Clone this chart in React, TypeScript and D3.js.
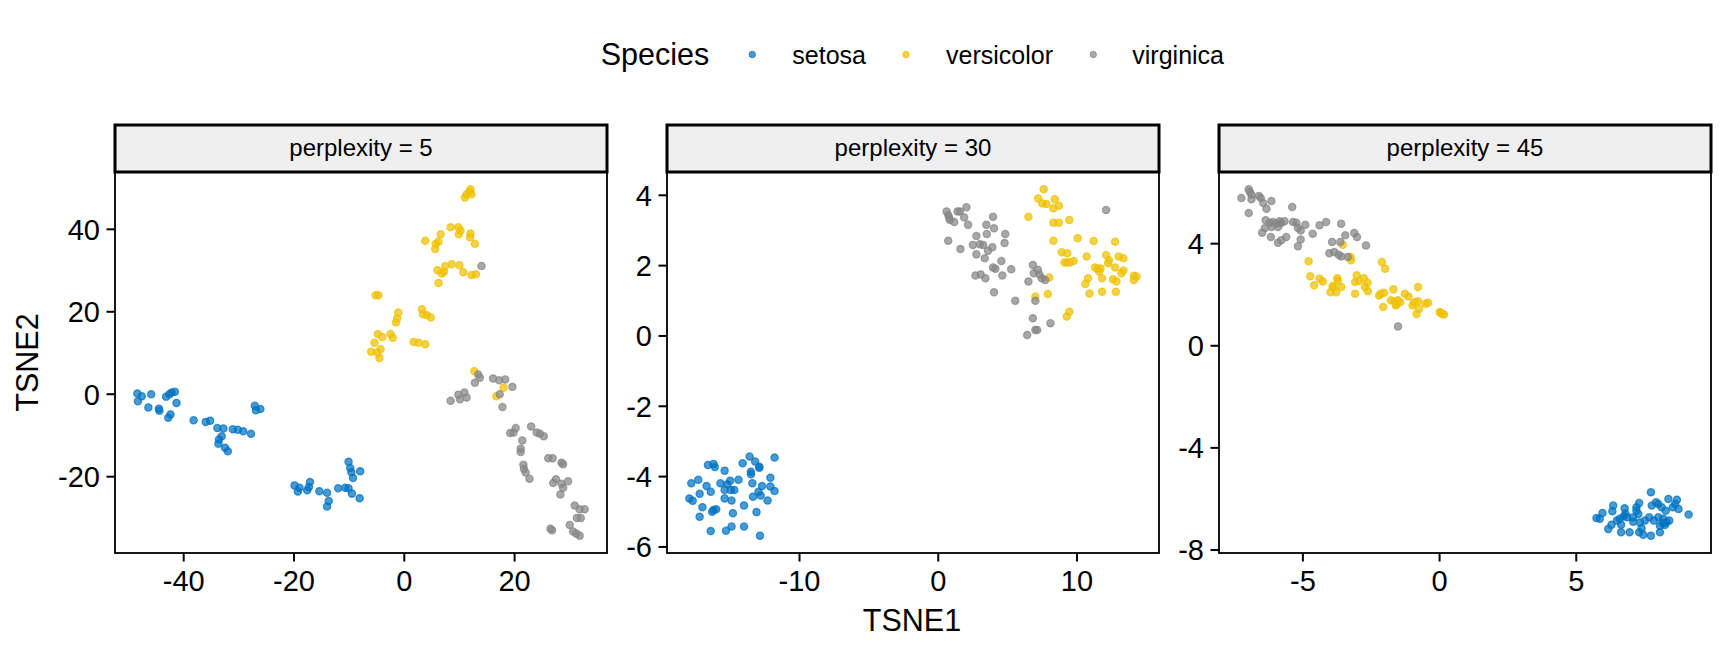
import * as d3 from 'd3';
import React from 'react';

type Pt = [number, number];

// perplexity = 5
const p5Setosa: Pt[] = [
  [-48.4, 0.2], [-48.3, -1.7], [-47.6, -0.5], [-45.9, 0], [-46.4, -3.2], [-44.5, -3.5], [-44.4, -4.0],
  [-43.2, -0.6], [-42.6, 0], [-42.2, 0.4], [-41.6, 0.6], [-41.3, -2.1], [-42.8, -5.7], [-42.4, -4.9],
  [-38.2, -6.3], [-36.0, -6.7], [-35.2, -6.4], [-33.9, -8.2], [-32.8, -8.3], [-31.1, -8.5], [-30.2, -8.6],
  [-29.2, -9.0], [-27.8, -9.6], [-33.1, -10.2], [-33.6, -11.0], [-33.7, -12.0], [-32.5, -13.0], [-32.0, -13.8],
  [-27.1, -2.8], [-26.9, -3.9], [-26.1, -3.6],
  [-19.9, -22.1], [-19.3, -23.6], [-19.0, -22.7], [-17.6, -23.3], [-17.3, -22.5], [-17.1, -21.3],
  [-15.4, -23.5], [-14.0, -23.9], [-13.7, -25.9], [-14.0, -27.2], [-12.0, -22.8], [-10.7, -22.7],
  [-10.1, -22.8], [-9.5, -24.1], [-8.1, -25.2], [-10.1, -16.4], [-9.8, -17.9], [-9.6, -18.9], [-9.3, -20.3], [-8.0, -18.7],
];
const p5Versicolor: Pt[] = [
  [12.0, 49.7], [11.8, 49.1], [11.3, 48.5], [12.2, 48.5], [11.0, 47.7], [8.4, 40.5], [9.8, 40.5], [10.2, 39.7],
  [9.9, 38.8], [12.0, 39.0], [11.9, 38.1], [12.8, 36.5], [6.6, 38.8], [3.8, 37.2], [5.7, 36.5], [6.2, 37.0],
  [5.6, 35.2], [6.0, 30.1], [6.8, 29.3], [7.4, 31.1], [7.2, 29.7], [8.6, 31.5], [10.0, 31.3], [10.7, 29.6],
  [12.2, 28.9], [13.0, 29.1], [6.2, 27.0], [-5.2, 24.0], [-4.7, 24.0], [-1.1, 19.8], [-1.3, 18.4], [-1.5, 17.4],
  [3.2, 20.6], [3.4, 19.4], [4.1, 19.2], [4.8, 18.6], [-4.8, 14.6], [-4.0, 13.9], [-2.5, 14.6], [-2.1, 13.7],
  [-5.4, 12.5], [-6.0, 10.3], [-4.9, 10.1], [-4.3, 10.9], [-4.5, 8.8], [1.7, 12.7], [2.6, 12.5], [3.8, 12.1],
  [12.7, 5.6], [18.0, 1.6], [16.7, -0.5],
];
const p5Virginica: Pt[] = [
  [14.0, 31.1], [13.4, 4.8], [13.7, 4.0], [12.8, 2.8], [16.1, 3.8], [17.2, 3.4], [18.3, 3.6], [19.6, 1.8],
  [17.3, 0], [17.8, -3.1], [8.4, -1.6], [9.8, -0.1], [10.1, -1.2], [10.9, 0.4], [11.3, -0.8],
  [19.2, -9.4], [19.8, -9.3], [20.2, -8.2], [23.0, -7.8], [24.0, -9.3], [24.6, -9.6], [25.3, -10.2],
  [21.4, -11.2], [21.1, -13.2], [21.1, -14.0], [21.6, -17.1], [21.7, -18.1], [22.0, -19.0], [22.7, -20.5],
  [26.1, -15.5], [26.9, -15.5], [28.5, -16.6], [28.8, -17.0], [27.5, -20.6], [27.0, -21.5], [28.5, -21.7],
  [28.8, -22.7], [29.7, -21.1], [28.3, -24.3], [30.9, -27.0], [31.8, -27.9], [32.7, -27.9], [31.3, -30.0],
  [32.0, -30.0], [26.5, -32.6], [26.8, -33.0], [30.0, -31.7], [30.6, -33.3], [31.2, -33.8], [31.8, -34.3],
];

// perplexity = 30
const p30Setosa: Pt[] = [
  [-17.94, -4.62], [-17.7, -4.69], [-17.8, -4.19], [-17.3, -4.09], [-17.2, -4.49], [-17.0, -4.87], [-17.2, -5.14],
  [-16.7, -4.27], [-16.6, -3.67], [-16.4, -4.43], [-16.3, -5.0], [-16.2, -4.95], [-16.2, -3.64], [-16.1, -3.73],
  [-16.0, -4.93], [-16.4, -5.55], [-15.7, -4.19], [-15.4, -3.83], [-15.4, -4.62], [-15.3, -5.54], [-15.2, -4.22],
  [-15.4, -4.38], [-15.0, -4.12], [-14.95, -4.38], [-14.7, -4.38], [-14.9, -4.68], [-14.8, -5.04], [-14.9, -5.42],
  [-14.4, -4.09], [-14.1, -3.62], [-14.0, -4.82], [-14.0, -5.42], [-13.6, -3.43], [-13.2, -3.57], [-13.5, -3.86],
  [-13.5, -3.93], [-12.9, -3.72], [-12.9, -3.75], [-13.4, -4.19], [-12.96, -4.43], [-13.35, -4.57], [-12.7, -4.27],
  [-12.8, -4.54], [-13.1, -5.01], [-12.85, -5.68], [-12.3, -4.68], [-12.1, -4.03], [-12.1, -4.28], [-11.8, -4.41],
  [-11.8, -3.46],
];
const p30Versicolor: Pt[] = [
  [7.6, 4.17], [7.2, 3.91], [7.5, 3.77], [7.8, 3.75], [8.4, 3.89], [8.7, 3.7], [8.3, 3.63], [6.5, 3.39],
  [8.3, 3.22], [8.7, 3.22], [9.45, 3.3], [8.3, 2.71], [10.05, 2.78], [11.2, 2.7], [12.75, 2.68], [8.9, 2.38],
  [9.1, 2.09], [9.3, 2.35], [9.3, 2.09], [9.76, 2.13], [9.5, 2.09], [10.7, 2.26], [12.1, 2.3], [12.3, 2.16],
  [12.25, 2.07], [13.0, 2.26], [13.35, 2.21], [11.3, 1.95], [11.5, 1.91], [11.6, 1.83], [11.7, 1.92],
  [12.75, 1.95], [13.2, 1.78], [13.35, 1.86], [10.8, 1.64], [10.6, 1.48], [10.9, 1.21], [11.8, 1.64],
  [11.8, 1.26], [12.6, 1.61], [12.85, 1.55], [12.8, 1.26], [14.1, 1.71], [14.3, 1.69], [14.1, 1.59],
  [8.0, 1.66], [7.9, 1.19], [7.0, 1.12], [9.45, 0.69], [9.26, 0.55],
];
const p30Virginica: Pt[] = [
  [0.6, 3.54], [0.72, 3.44], [0.84, 3.3], [1.15, 3.24], [1.39, 3.54], [1.56, 3.54], [1.87, 3.37], [2.03, 3.66],
  [2.15, 3.16], [0.72, 2.71], [1.6, 2.47], [2.75, 2.84], [3.47, 3.16], [3.95, 3.39], [4.02, 3.06], [3.5, 2.9],
  [4.83, 2.9], [2.5, 2.59], [3.0, 2.61], [3.23, 2.59], [3.9, 2.52], [4.78, 2.64], [2.75, 2.32], [3.35, 2.21],
  [4.55, 2.13], [3.95, 1.95], [4.12, 1.91], [5.26, 1.9], [2.68, 1.72], [3.06, 1.75], [3.4, 1.64], [4.62, 1.72],
  [4.02, 1.24], [5.55, 1.0], [6.82, 2.02], [6.89, 1.78], [7.3, 1.75], [7.46, 1.64], [7.7, 1.59], [6.5, 1.55],
  [7.0, 1.0], [6.82, 0.5], [7.0, 0.17], [7.13, 0.17], [6.41, 0.03], [8.09, 0.36], [12.1, 3.58],
  [0.79, 3.36], [3.59, 2.42], [7.18, 1.88],
];

// perplexity = 45
const p45Setosa: Pt[] = [
  [5.74, -6.75], [5.86, -6.78], [5.96, -6.55], [6.17, -7.18], [6.29, -7.01], [6.35, -6.26], [6.32, -6.48],
  [6.59, -6.78], [6.49, -6.85], [6.64, -7.01], [6.64, -7.31], [6.74, -6.68], [6.8, -6.57], [6.86, -6.72],
  [6.95, -7.31], [7.08, -6.89], [7.2, -6.33], [7.2, -6.46], [7.3, -6.16], [7.27, -6.59], [7.33, -6.92],
  [7.3, -7.31], [7.39, -7.15], [7.45, -7.4], [7.51, -6.85], [7.67, -6.72], [7.73, -7.44], [7.76, -6.26],
  [7.73, -5.74], [7.92, -6.13], [8.0, -6.2], [7.84, -6.85], [8.0, -6.72], [8.06, -7.05], [8.06, -7.31],
  [8.18, -6.78], [8.24, -7.02], [8.3, -6.91], [8.4, -6.85], [8.12, -6.33], [8.37, -6.0], [8.53, -6.33],
  [8.68, -6.03], [8.62, -6.2], [8.74, -6.39], [9.11, -6.61], [8.27, -6.46], [6.77, -6.37], [7.08, -6.72],
  [8.17, -6.95],
];
const p45Versicolor: Pt[] = [
  [-3.54, 3.96], [-3.26, 3.48], [-3.24, 3.35], [-4.79, 3.31], [-4.73, 2.72], [-4.39, 2.63], [-4.27, 2.52],
  [-4.59, 2.37], [-3.99, 2.1], [-3.9, 2.3], [-3.74, 2.65], [-3.72, 2.56], [-3.78, 2.1], [-3.6, 2.3],
  [-3.03, 2.76], [-2.95, 2.54], [-2.77, 2.65], [-2.63, 2.47], [-2.73, 2.3], [-3.09, 2.04], [-2.62, 2.14],
  [-2.11, 3.28], [-1.99, 3.02], [-2.21, 1.97], [-2.15, 2.04], [-2.03, 2.08], [-1.69, 2.21], [-0.79, 2.3],
  [-1.78, 1.78], [-1.66, 1.74], [-1.57, 1.65], [-1.52, 1.78], [-1.44, 1.71], [-2.06, 1.52], [-1.27, 2.04],
  [-1.14, 1.93], [-0.99, 1.58], [-0.79, 1.74], [-0.84, 1.25], [-0.75, 1.45], [-0.51, 1.65], [-0.42, 1.69],
  [0.01, 1.32], [0.1, 1.25], [0.16, 1.23], [-3.91, 2.34], [-3.09, 2.5], [-0.93, 1.71], [-1.6, 1.58], [0.04, 1.29],
];
const p45Virginica: Pt[] = [
  [-7.25, 5.79], [-6.98, 6.13], [-6.94, 6.03], [-6.88, 5.92], [-6.88, 5.74], [-6.61, 5.87], [-6.54, 5.79],
  [-6.45, 5.59], [-6.33, 5.37], [-6.15, 5.67], [-6.98, 5.2], [-5.39, 5.44], [-6.36, 4.92], [-6.21, 4.82],
  [-6.09, 4.85], [-5.97, 4.78], [-5.85, 4.88], [-5.79, 4.81], [-6.39, 4.61], [-6.49, 4.43], [-6.15, 4.65],
  [-5.91, 4.65], [-6.17, 4.26], [-5.91, 4.04], [-5.79, 4.13], [-5.61, 4.26], [-5.36, 4.85], [-5.24, 4.82],
  [-5.18, 4.61], [-5.08, 4.52], [-4.91, 4.74], [-5.08, 4.16], [-5.18, 3.9], [-4.64, 4.39], [-4.15, 4.85],
  [-3.6, 4.78], [-3.93, 4.07], [-3.63, 4.07], [-3.45, 4.33], [-3.12, 4.42], [-3.02, 4.26], [-2.69, 3.93],
  [-4.03, 3.63], [-3.85, 3.67], [-3.69, 3.57], [-3.6, 3.5], [-3.36, 3.48], [-1.52, 0.76], [-5.67, 4.88],
  [-4.39, 4.72],
];

const species = ['setosa', 'versicolor', 'virginica'];
const colors = ['#0073C2', '#EFC000', '#868686'];

const panels = [
  { label: 'perplexity = 5', series: [p5Setosa, p5Versicolor, p5Virginica], xTicks: [-40, -20, 0, 20], yTicks: [-20, 0, 20, 40] },
  { label: 'perplexity = 30', series: [p30Setosa, p30Versicolor, p30Virginica], xTicks: [-10, 0, 10], yTicks: [-6, -4, -2, 0, 2, 4] },
  { label: 'perplexity = 45', series: [p45Setosa, p45Versicolor, p45Virginica], xTicks: [-5, 0, 5], yTicks: [-8, -4, 0, 4] },
];

const W = 1728;
const H = 652;
const font = "'Liberation Sans', Arial, Helvetica, sans-serif";
const panelLeft = [115, 667, 1219];
const panelW = 492;
const panelTop = 172;
const panelBottom = 553;
const stripTop = 125;

// ggplot-style 5% padding on each side of the data range
const expand = (ext: [number, number]): [number, number] => {
  const pad = (ext[1] - ext[0]) * 0.05;
  return [ext[0] - pad, ext[1] + pad];
};

const Panel: React.FC<{ idx: number }> = ({ idx }) => {
  const p = panels[idx];
  const left = panelLeft[idx];
  const all = p.series.flat();
  const x = d3.scaleLinear()
    .domain(expand(d3.extent(all, d => d[0]) as [number, number]))
    .range([left, left + panelW]);
  const y = d3.scaleLinear()
    .domain(expand(d3.extent(all, d => d[1]) as [number, number]))
    .range([panelBottom, panelTop]);

  return (
    <g>
      {/* strip */}
      <rect x={left} y={stripTop} width={panelW} height={panelTop - stripTop}
        fill="#EFEFEF" stroke="#000" strokeWidth={3} />
      <text x={left + panelW / 2} y={156} textAnchor="middle" fontSize={24} fontFamily={font}>{p.label}</text>

      {/* points */}
      {p.series.map((s, si) => (
        <g key={si}>
          {s.map((d, i) => (
            <circle key={i} cx={x(d[0])} cy={y(d[1])} r={3.6}
              fill={colors[si]} fillOpacity={0.72}
              stroke={colors[si]} strokeOpacity={0.72} strokeWidth={1.3} />
          ))}
        </g>
      ))}

      {/* panel border */}
      <rect x={left} y={panelTop} width={panelW} height={panelBottom - panelTop}
        fill="none" stroke="#000" strokeWidth={1.8} />

      {/* x axis */}
      {p.xTicks.map(t => (
        <g key={t}>
          <line x1={x(t)} x2={x(t)} y1={panelBottom} y2={panelBottom + 8.5} stroke="#000" strokeWidth={2} />
          <text x={x(t)} y={591} textAnchor="middle" fontSize={29} fontFamily={font}>{t}</text>
        </g>
      ))}

      {/* y axis */}
      {p.yTicks.map(t => (
        <g key={t}>
          <line x1={left - 8.5} x2={left} y1={y(t)} y2={y(t)} stroke="#000" strokeWidth={2} />
          <text x={left - 15} y={y(t) + 10.5} textAnchor="end" fontSize={29} fontFamily={font}>{t}</text>
        </g>
      ))}
    </g>
  );
};

const legendDotX = [752.3, 906, 1093.3];
const legendTextX = [792.3, 946, 1132.3];

export default function App() {
  return (
    <svg width={W} height={H} style={{ position: 'absolute', left: 0, top: 0, background: '#fff' }}>
      <rect width={W} height={H} fill="#fff" />

      {/* legend */}
      <text x={600.7} y={65} fontSize={30.5} fontFamily={font}>Species</text>
      {species.map((s, i) => (
        <g key={s}>
          <circle cx={legendDotX[i]} cy={54.5} r={3.2} fill={colors[i]} fillOpacity={0.72}
            stroke={colors[i]} strokeOpacity={0.72} strokeWidth={1} />
          <text x={legendTextX[i]} y={64} fontSize={25} fontFamily={font}>{s}</text>
        </g>
      ))}

      {panels.map((_, i) => <Panel key={i} idx={i} />)}

      {/* axis titles */}
      <text x={912} y={630.5} textAnchor="middle" fontSize={30.5} fontFamily={font}>TSNE1</text>
      <text transform={`translate(38,${(panelTop + panelBottom) / 2}) rotate(-90)`} textAnchor="middle"
        fontSize={30.5} fontFamily={font}>TSNE2</text>
    </svg>
  );
}
